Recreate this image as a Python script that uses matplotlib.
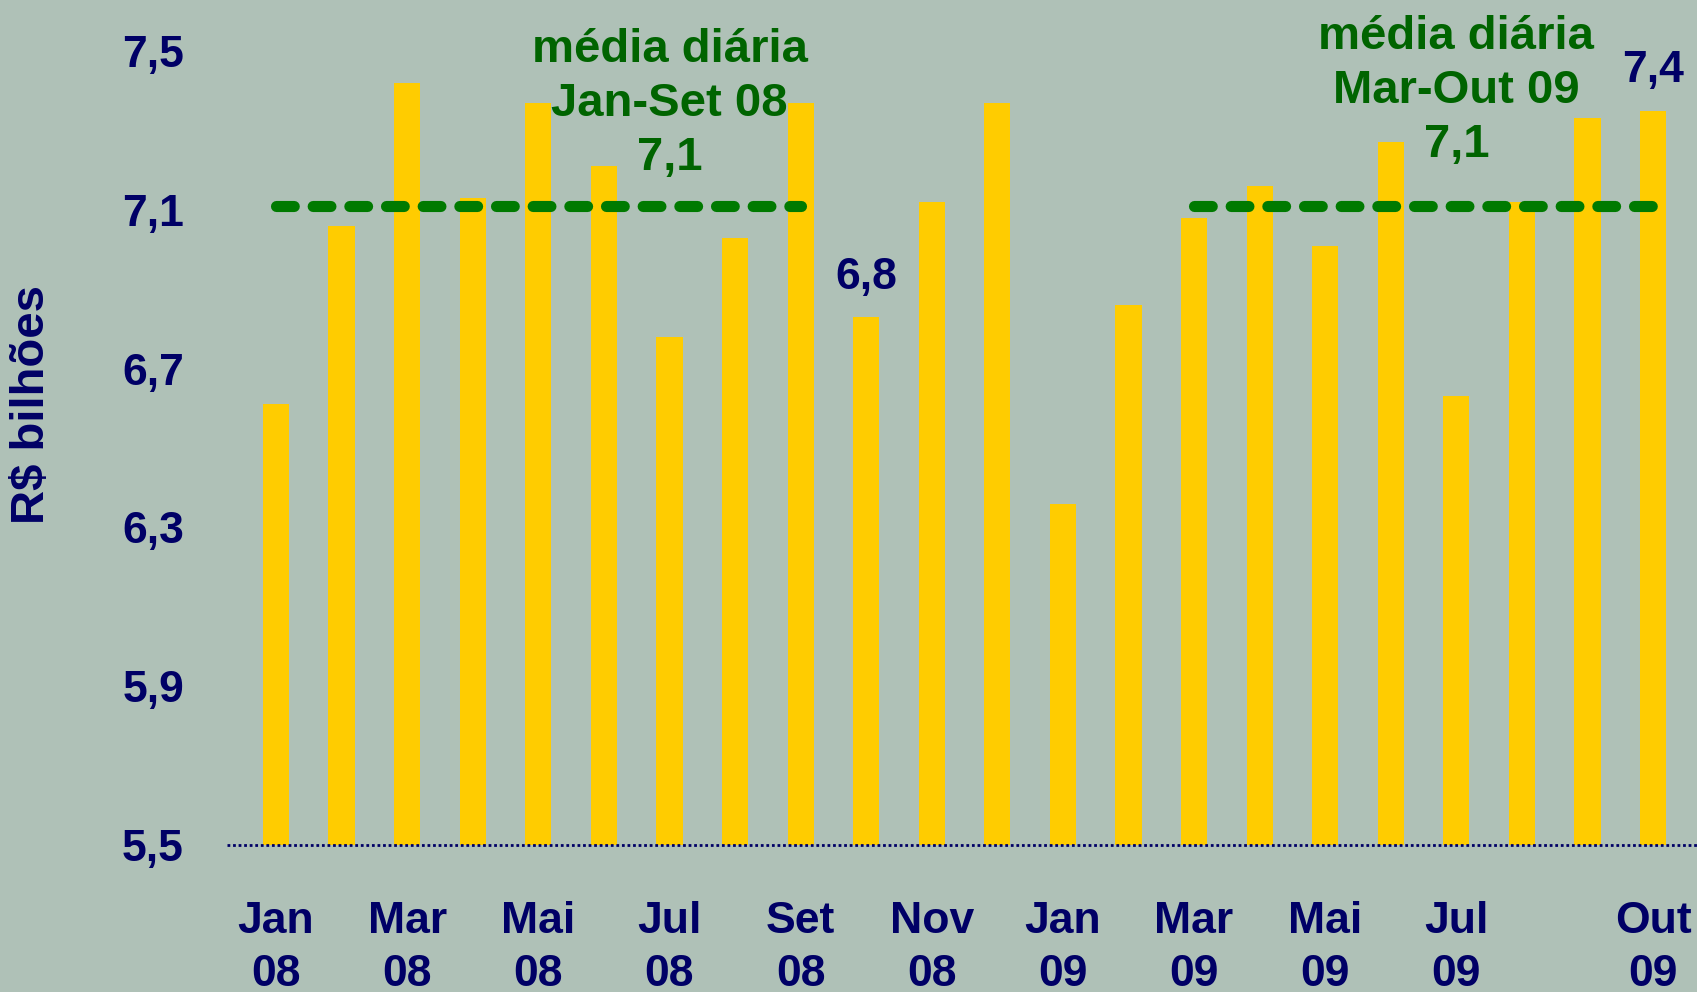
import matplotlib.pyplot as plt

# dados: média diária (R$ bilhões)
meses = ["Jan 08", "Fev 08", "Mar 08", "Abr 08", "Mai 08", "Jun 08", "Jul 08", "Ago 08",
         "Set 08", "Out 08", "Nov 08", "Dez 08", "Jan 09", "Fev 09", "Mar 09", "Abr 09",
         "Mai 09", "Jun 09", "Jul 09", "Ago 09", "Set 09", "Out 09"]
valores = [6.61, 7.06, 7.42, 7.13, 7.37, 7.21, 6.78, 7.03, 7.37, 6.83, 7.12, 7.37,
           6.36, 6.86, 7.08, 7.16, 7.01, 7.27, 6.63, 7.12, 7.33, 7.35]

rotulos_x = ["Jan\n08", "Mar\n08", "Mai\n08", "Jul\n08", "Set\n08", "Nov\n08",
             "Jan\n09", "Mar\n09", "Mai\n09", "Jul\n09", "Out\n09"]
pos_rotulos_x = [0, 2, 4, 6, 8, 10, 12, 14, 16, 18, 21]

y_ticks = [5.5, 5.9, 6.3, 6.7, 7.1, 7.5]
y_rotulos = ["5,5", "5,9", "6,3", "6,7", "7,1", "7,5"]

# médias diárias por período (índice inicial, índice final, valor)
media1 = (0, 8, 7.11)
media2 = (14, 21, 7.11)

FUNDO = "#afc1b7"
AMARELO = "#ffcc00"
AZUL = "#000066"
VERDE_TXT = "#006400"
VERDE_LINHA = "#007a00"
FONTE = "Liberation Sans"

plt.rcParams["font.family"] = FONTE
plt.rcParams["font.weight"] = "bold"

fig = plt.figure(figsize=(16.97, 9.92), dpi=100, facecolor=FUNDO)
ax = fig.add_axes([0.1338, 0.1482, 0.8662, 0.8004])
ax.set_facecolor("none")

x = list(range(len(meses)))
ax.bar(x, valores, width=0.40, color=AMARELO, bottom=0, zorder=2)

ax.set_ylim(5.5, 7.5)
ax.set_xlim(-0.747, 21.67)

# linha de base pontilhada
ax.axhline(5.5, color=AZUL, linestyle=(0, (1, 1)), linewidth=2, zorder=3, clip_on=False)

for spine in ax.spines.values():
    spine.set_visible(False)

ax.set_yticks(y_ticks)
ax.set_yticklabels(y_rotulos, fontsize=32, color=AZUL, fontweight="bold")
ax.tick_params(axis="y", length=0, pad=31)

ax.set_xticks(pos_rotulos_x)
ax.set_xticklabels(rotulos_x, fontsize=32, color=AZUL, fontweight="bold", linespacing=1.38)
ax.tick_params(axis="x", length=0, pad=40)

# linhas de média
for ini, fim, val in [media1, media2]:
    ax.plot([ini, fim], [val, val], color=VERDE_LINHA, linewidth=8,
            linestyle=(0, (1.6, 1.7)), dash_capstyle="round", zorder=4)

ax.text(6.0, 7.366, "média diária\nJan-Set 08\n7,1", ha="center", va="center",
        fontsize=34, color=VERDE_TXT, fontweight="bold", linespacing=1.3)
ax.text(18.0, 7.399, "média diária\nMar-Out 09\n7,1", ha="center", va="center",
        fontsize=34, color=VERDE_TXT, fontweight="bold", linespacing=1.3)

# rótulos de valores
ax.text(9, valores[9] + 0.1, "6,8", ha="center", va="center", fontsize=32,
        color=AZUL, fontweight="bold")
ax.text(21, valores[21] + 0.1, "7,4", ha="center", va="center", fontsize=32,
        color=AZUL, fontweight="bold")

fig.text(32 / 1697, 1 - 404 / 992, "R$ bilhões", rotation=90, ha="center", va="center",
         fontsize=34, color=AZUL, fontweight="bold")

fig.savefig("out.png", dpi=100, facecolor=FUNDO)
